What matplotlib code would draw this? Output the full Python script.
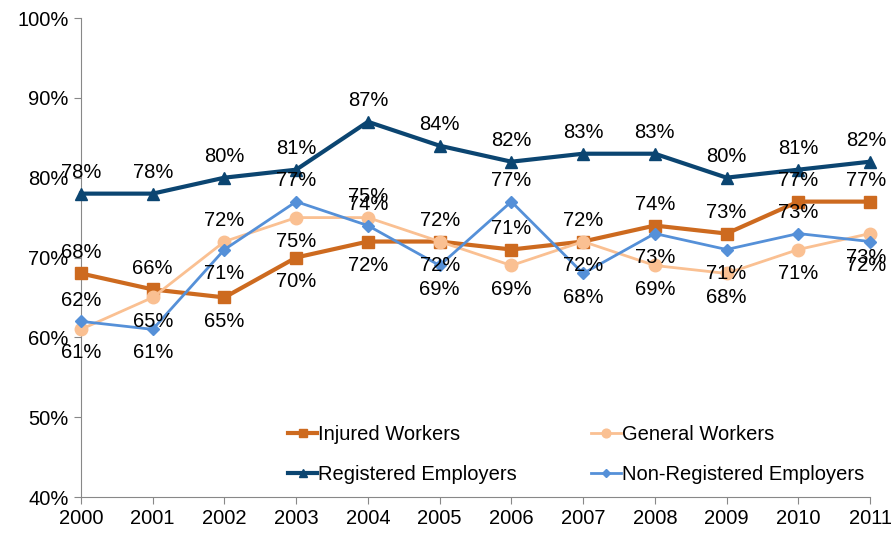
import matplotlib
matplotlib.use("Agg")
import matplotlib.pyplot as plt
import numpy as np

plt.rcParams['font.family'] = ['Liberation Sans', 'DejaVu Sans']

# ---------------------- Data ----------------------
years = ['2000', '2001', '2002', '2003', '2004', '2005',
         '2006', '2007', '2008', '2009', '2010', '2011']
injured = [68, 66, 65, 70, 72, 72, 71, 72, 74, 73, 77, 77]
general = [61, 65, 72, 75, 75, 72, 69, 72, 69, 68, 71, 73]
registered = [78, 78, 80, 81, 87, 84, 82, 83, 83, 80, 81, 82]
nonregistered = [62, 61, 71, 77, 74, 69, 77, 68, 73, 71, 73, 72]

# label side per point: 1 = above, -1 = below
injured_side = [1, 1, -1, -1, -1, -1, 1, 1, 1, 1, 1, 1]
general_side = [-1, -1, 1, -1, 1, 1, -1, -1, -1, -1, -1, -1]
registered_side = [1] * 12
nonreg_side = [1, -1, -1, 1, 1, -1, 1, -1, -1, -1, 1, -1]

# ---------------------- Plot ----------------------
fig = plt.figure(figsize=(8.91, 5.34), dpi=100)
ax = fig.add_axes([81 / 891, 1 - 497 / 534, 789 / 891, 479 / 534])
x = np.arange(len(years))

series = [
    ("Injured Workers", injured, injured_side, "#CD6A1F", "s", 3.0, 8),
    ("Registered Employers", registered, registered_side, "#0B4571", "^", 3.0, 9),
    ("General Workers", general, general_side, "#FAC092", "o", 2.0, 9),
    ("Non-Registered Employers", nonregistered, nonreg_side, "#5590D8", "D", 2.0, 6),
]

FS = 14.5
handles = {}
for name, vals, sides, color, marker, lw, ms in series:
    h, = ax.plot(x, vals, color=color, marker=marker, lw=lw, ms=ms,
                 markeredgecolor=color, label=name, zorder=3, clip_on=False)
    handles[name] = h
    for xi, v, s in zip(x, vals, sides):
        off = 15 if s > 0 else -17
        dx = -3 if xi == len(x) - 1 else 0
        ax.annotate(f"{v}%", (xi, v), xytext=(dx, off), textcoords="offset points",
                    ha="center", va="center", fontsize=FS, zorder=5)

ax.set_xlim(0, 11)
ax.set_ylim(40, 100)
ax.set_xticks(x)
ax.set_xticklabels(years, fontsize=FS)
ax.set_yticks(np.arange(40, 101, 10))
ax.set_yticklabels([f"{v}%" for v in range(40, 101, 10)], fontsize=FS)

for side in ['top', 'right']:
    ax.spines[side].set_visible(False)
for side in ['left', 'bottom']:
    ax.spines[side].set_color('#888888')
ax.tick_params(axis='both', colors='#888888', labelcolor='black', length=5, pad=4)

order = ["Injured Workers", "Registered Employers", "General Workers", "Non-Registered Employers"]
ax.legend([handles[n] for n in order], order, ncol=2, frameon=False, fontsize=FS,
          loc='upper left', bbox_to_anchor=(288 / 891, 109 / 534), bbox_transform=fig.transFigure,
          borderpad=0, borderaxespad=0, handlelength=1.45, markerscale=0.7,
          handletextpad=0.05, columnspacing=3.7, labelspacing=1.05)

fig.savefig("out.png", dpi=100)
